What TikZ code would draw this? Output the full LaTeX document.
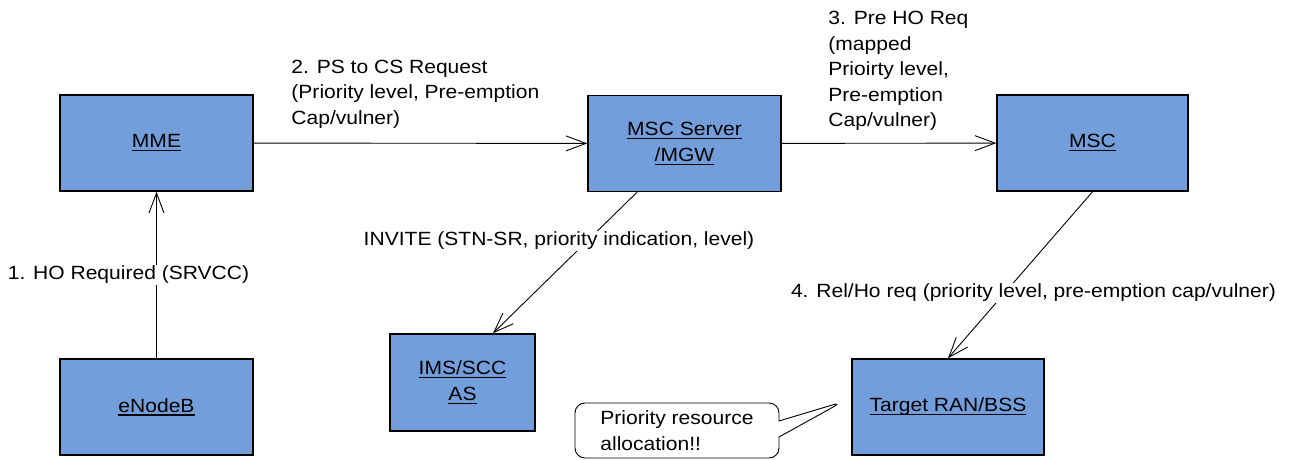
\documentclass[tikz,border=0pt]{standalone}
\usepackage{fontspec}
\setmainfont{Liberation Sans}[FakeStretch=1.1]
\usetikzlibrary{arrows.meta,shapes.callouts}
\definecolor{boxblue}{RGB}{114,159,219}
\newcommand{\ulabel}[1]{\sbox0{#1}\rlap{\rule[-3.5bp]{\wd0}{1.2bp}}\usebox0}

\begin{document}
\begin{tikzpicture}[x=1bp,y=-1bp,>={Straight Barb[length=20bp,width=15bp]},line width=0.9bp,
    block/.style={draw,line width=1.5bp,fill=boxblue,minimum width=193bp,minimum height=96bp,align=center,font=\fontsize{19.2}{26}\selectfont},
    msg/.style={fill=white,inner sep=1bp,align=left,font=\fontsize{19.2}{25.5}\selectfont}]
    \useasboundingbox (0,0) rectangle (1293,460);

    \node[block] (mme) at (156.5,143) {\ulabel{MME}};
    \node[block] (enb) at (156.5,407) {\ulabel{eNodeB}};
    \node[block] (mscs) at (684.5,143.5) {\ulabel{MSC Server}\\\ulabel{/MGW}};
    \node[block,minimum width=191bp] (msc) at (1092.5,143) {\ulabel{MSC}};
    \node[block,minimum width=145bp,minimum height=97bp] (ims) at (462.5,382.5) {\ulabel{IMS/SCC}\\\ulabel{AS}};
    \node[block,minimum width=192bp] (ran) at (948,407) {\ulabel{Target RAN/BSS}};

    \node[rectangle callout,draw,fill=white,rounded corners=10bp,minimum width=204bp,minimum height=55bp,
        align=left,font=\fontsize{19.2}{25.5}\selectfont,callout pointer width=16bp,
        callout absolute pointer={([xshift=-9bp,yshift=5bp]ran.west)}] (note) at (677,430.5)
        {Priority resource\\allocation!!};

    \draw[->] (enb) -- (mme);
    \draw[->] (mme) -- (mscs);
    \draw[->] (mscs) -- (msc);
    \draw[->] ([xshift=-47.5bp]mscs.south) -- ([xshift=30.5bp]ims.north);
    \draw[->] (msc.south) -- (ran.north);

    \node[msg] (l1) at (128.5,275) {1. HO Required (SRVCC)};
    \node[msg,anchor=west] (l2) at (290,94) {2. PS to CS Request\\(Priority level, Pre-emption\\Cap/vulner)};
    \node[msg,anchor=west] (l3) at (827,71) {3. Pre HO Req\\(mapped\\Prioirty level,\\Pre-emption\\Cap/vulner)};
    \node[msg] (l4) at (559,241) {INVITE (STN-SR, priority indication, level)};
    \node[msg] (l5) at (1033.5,293) {4. Rel/Ho req (priority level, pre-emption cap/vulner)};
\end{tikzpicture}
\end{document}
